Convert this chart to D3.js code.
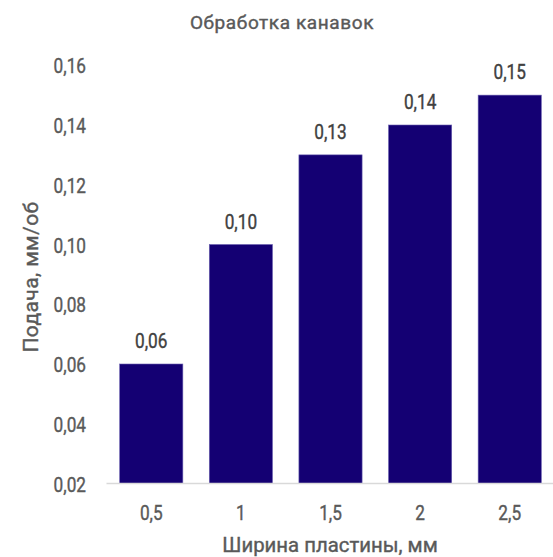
<!DOCTYPE html>
<html>
<head>
<meta charset="utf-8">
<script src="https://cdn.jsdelivr.net/npm/d3@7"></script>
<style>
  html, body { margin: 0; padding: 0; background: #fff; }
  svg text { font-family: Roboto, "DejaVu Sans Condensed", sans-serif; font-weight: 400; stroke-width: 0.4; paint-order: stroke; }
</style>
</head>
<body>
<svg id="chart" width="553" height="557"></svg>
<script>
const categories = ["0,5", "1", "1,5", "2", "2,5"];
const values = [0.06, 0.10, 0.13, 0.14, 0.15];
const yTicks = [0.02, 0.04, 0.06, 0.08, 0.10, 0.12, 0.14, 0.16];
const title = "Обработка канавок";
const xTitle = "Ширина пластины, мм";
const yTitle = "Подача, мм/об";

const svg = d3.select("#chart");
const fmt = v => d3.format(".2f")(v).replace(".", ",");
const NARROW = "scale(0.82,1)";
const GREY = "#595959";

const x = d3.scaleBand().domain(categories).range([106.5, 554.5]).paddingInner(0.295).paddingOuter(0.147);
const y = d3.scaleLinear().domain([0.02, 0.16]).range([483.5, 65.25]);

svg.append("text").attr("x", 282).attr("y", 29).attr("text-anchor", "middle")
  .attr("font-size", 19).attr("fill", GREY).attr("stroke", GREY).attr("letter-spacing", 0.6).text(title);

// y axis labels
const yAxis = d3.axisLeft(y).tickValues(yTicks).tickFormat(fmt).tickSize(0).tickPadding(0);
const gy = svg.append("g").attr("transform", "translate(86,0)").call(yAxis);
gy.select(".domain").remove();
gy.selectAll("text").attr("x", 0).attr("font-size", 21).attr("fill", GREY).attr("stroke", GREY)
  .attr("dy", "0.36em").attr("transform", NARROW);

// bars
svg.append("g").selectAll("rect").data(values).join("rect")
  .attr("x", (d, i) => x(categories[i]))
  .attr("width", x.bandwidth())
  .attr("y", d => y(d))
  .attr("height", d => y(0.02) - y(d))
  .attr("fill", "#140073")
  .attr("stroke", "#6a5fb0").attr("stroke-width", 0.6);

// baseline
svg.append("line").attr("x1", 106.5).attr("x2", 553).attr("y1", 483.5).attr("y2", 483.5)
  .attr("stroke", "#d9d9d9").attr("stroke-width", 1.5);

// x axis labels
const xAxis = d3.axisBottom(x).tickSize(0).tickPadding(0);
const gx = svg.append("g").attr("transform", "translate(0,512.5)").call(xAxis);
gx.select(".domain").remove();
gx.selectAll("text").attr("y", 0).attr("font-size", 21).attr("fill", GREY).attr("stroke", GREY)
  .attr("dy", "0.36em").attr("transform", NARROW);

// data labels
const lg = svg.append("g").selectAll("g").data(values).join("g")
  .attr("transform", (d, i) => `translate(${x(categories[i]) + x.bandwidth() / 2},${y(d) - 16})`);
lg.append("text").attr("text-anchor", "middle").attr("transform", NARROW)
  .attr("font-size", 21).attr("fill", "#404040").attr("stroke", "#404040")
  .text(d => fmt(d));

// axis titles
svg.append("g").attr("transform", "translate(330,551.5)")
  .append("text").attr("text-anchor", "middle").attr("transform", "scale(0.97,1)")
  .attr("font-size", 21).attr("fill", GREY).attr("stroke", GREY).text(xTitle);
svg.append("g").attr("transform", "translate(38,277) rotate(-90)")
  .append("text").attr("text-anchor", "middle")
  .attr("font-size", 21).attr("fill", GREY).attr("stroke", GREY).attr("letter-spacing", 0.4).text(yTitle);
</script>
</body>
</html>
